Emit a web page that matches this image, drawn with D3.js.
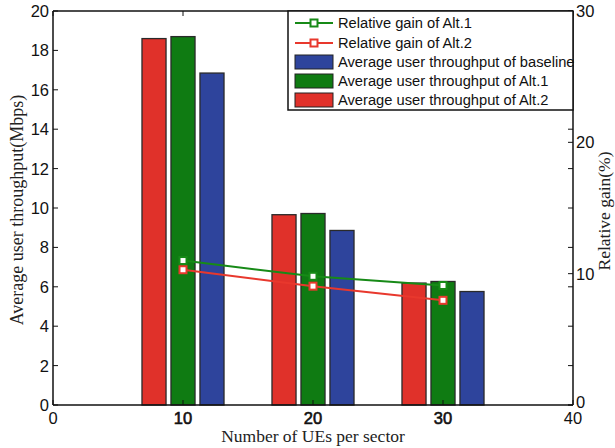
<!DOCTYPE html>
<html>
<head>
<meta charset="utf-8">
<script src="https://cdn.jsdelivr.net/npm/d3@7"></script>
<style>
  html, body { margin: 0; padding: 0; background: #fff; }
  svg { display: block; }
</style>
</head>
<body>
<svg id="chart" width="615" height="448"></svg>
<script>
// ---- data ----
const categories = [10, 20, 30];
const throughputAlt2 = [18.6, 9.66, 6.19];
const throughputAlt1 = [18.7, 9.72, 6.27];
const throughputBaseline = [16.85, 8.86, 5.76];
const gainAlt1 = [11.0, 9.8, 9.1];
const gainAlt2 = [10.3, 9.05, 7.97];
const xTicks = [0, 10, 20, 30, 40];
const yLeftTicks = [0, 2, 4, 6, 8, 10, 12, 14, 16, 18, 20];
const yRightTicks = [0, 10, 20, 30];
const legendLabels = [
  "Relative gain of Alt.1",
  "Relative gain of Alt.2",
  "Average user throughput of baseline",
  "Average user throughput of Alt.1",
  "Average user throughput of Alt.2"
];

// ---- layout ----
const W = 615, H = 448;
const L = 53, R = 573, T = 11, B = 405;
const RED = "#e0312a", GREEN = "#0f7b12", BLUE = "#2e449c";
const LRED = "#e8382d", LGREEN = "#178a17";

const svg = d3.select("#chart");
const x = d3.scaleLinear().domain([0, 40]).range([L, R]);
const yL = d3.scaleLinear().domain([0, 20]).range([B, T]);
const yR = d3.scaleLinear().domain([0, 30]).range([B, T]);

const barW = x(1.85) - x(0);
const off = x(2.23) - x(0);

const series = [
  { vals: throughputAlt2, color: RED, dx: -off },
  { vals: throughputAlt1, color: GREEN, dx: 0 },
  { vals: throughputBaseline, color: BLUE, dx: off }
];

const bars = svg.append("g");
series.forEach(s => {
  bars.selectAll(null).data(categories).enter().append("rect")
    .attr("x", (d) => x(d) + s.dx - barW / 2)
    .attr("y", (d, i) => yL(s.vals[i]))
    .attr("width", barW)
    .attr("height", (d, i) => B - yL(s.vals[i]))
    .attr("fill", s.color)
    .attr("stroke", "#2a2a2a")
    .attr("stroke-width", 1.3);
});

// lines
const lines = [
  { vals: gainAlt1, color: LGREEN },
  { vals: gainAlt2, color: LRED }
];
const lg = svg.append("g");
lines.forEach(l => {
  const line = d3.line().x((d) => x(d)).y((d, i) => yR(l.vals[i]));
  lg.append("path").datum(categories).attr("d", line)
    .attr("fill", "none").attr("stroke", l.color).attr("stroke-width", 2);
  lg.selectAll(null).data(categories).enter().append("rect")
    .attr("x", d => x(d) - 3.5).attr("y", (d, i) => yR(l.vals[i]) - 3.5)
    .attr("width", 7).attr("height", 7)
    .attr("fill", "#fff").attr("stroke", l.color).attr("stroke-width", 2);
});

// axes frame
const ax = svg.append("g").attr("stroke", "#111").attr("stroke-width", 1.5);
ax.append("line").attr("x1", L).attr("x2", R).attr("y1", B).attr("y2", B);
ax.append("line").attr("x1", L).attr("x2", R).attr("y1", T).attr("y2", T);
ax.append("line").attr("x1", L).attr("x2", L).attr("y1", T).attr("y2", B);
ax.append("line").attr("x1", R).attr("x2", R).attr("y1", T).attr("y2", B);

const tk = 5;
const tg = svg.append("g").attr("stroke", "#111").attr("stroke-width", 1);
// left ticks & mirrored right
yLeftTicks.forEach(v => {
  tg.append("line").attr("x1", L).attr("x2", L + tk).attr("y1", yL(v)).attr("y2", yL(v));
  tg.append("line").attr("x1", R).attr("x2", R - tk).attr("y1", yL(v)).attr("y2", yL(v));
});
yRightTicks.forEach(v => {
  tg.append("line").attr("x1", R).attr("x2", R - tk).attr("y1", yR(v)).attr("y2", yR(v));
});
xTicks.forEach(v => {
  tg.append("line").attr("x1", x(v)).attr("x2", x(v)).attr("y1", B).attr("y2", B - tk);
  tg.append("line").attr("x1", x(v)).attr("x2", x(v)).attr("y1", T).attr("y2", T + tk);
});

// tick labels
const tickFont = "'Liberation Sans', Arial, sans-serif";
svg.append("g").selectAll("text").data(yLeftTicks).enter().append("text")
  .attr("x", L - 4).attr("y", d => yL(d) + 6)
  .attr("text-anchor", "end").attr("font-family", tickFont).attr("font-size", 16.5)
  .attr("fill", "#111").text(d => d);
svg.append("g").selectAll("text").data(yRightTicks).enter().append("text")
  .attr("x", R + 3).attr("y", d => yR(d) + (d === 0 ? 3 : 6))
  .attr("text-anchor", "start").attr("font-family", tickFont).attr("font-size", 16.5)
  .attr("fill", "#111").text(d => d);
svg.append("g").selectAll("text").data(xTicks).enter().append("text")
  .attr("x", d => x(d)).attr("y", B + 19)
  .attr("text-anchor", "middle").attr("font-family", tickFont).attr("font-size", 16.5)
  .attr("fill", "#111")
  .attr("stroke", d => (d > 0 && d < 40) ? "#111" : "none")
  .attr("stroke-width", 0.6)
  .text(d => d);

// axis titles
const titleFont = "'Liberation Serif', 'Times New Roman', serif";
svg.append("text").attr("x", x(20)).attr("y", 442)
  .attr("text-anchor", "middle").attr("font-family", titleFont).attr("font-size", 17.5)
  .attr("fill", "#222").text("Number of UEs per sector");
svg.append("text").attr("transform", "translate(23,210) rotate(-90)")
  .attr("text-anchor", "middle").attr("font-family", titleFont).attr("font-size", 18)
  .attr("fill", "#222").text("Average user throughput(Mbps)");
svg.append("text").attr("transform", "translate(610,211) rotate(-90)")
  .attr("text-anchor", "middle").attr("font-family", titleFont).attr("font-size", 17.5)
  .attr("fill", "#222").text("Relative gain(%)");

// legend
const leg = svg.append("g");
leg.append("rect").attr("x", 288).attr("y", T).attr("width", R - 288).attr("height", 99)
  .attr("fill", "#fff").attr("stroke", "#111").attr("stroke-width", 1.5);
const rowY = [23, 43, 62, 81, 100];
const legItems = [
  { type: "line", color: LGREEN },
  { type: "line", color: LRED },
  { type: "rect", color: BLUE },
  { type: "rect", color: GREEN },
  { type: "rect", color: RED }
];
legItems.forEach((it, i) => {
  const yy = rowY[i];
  if (it.type === "line") {
    leg.append("line").attr("x1", 295).attr("x2", 333).attr("y1", yy).attr("y2", yy)
      .attr("stroke", it.color).attr("stroke-width", 2);
    leg.append("rect").attr("x", 314 - 3.5).attr("y", yy - 3.5).attr("width", 7).attr("height", 7)
      .attr("fill", "#fff").attr("stroke", it.color).attr("stroke-width", 2);
  } else {
    leg.append("rect").attr("x", 295).attr("y", yy - 7).attr("width", 38).attr("height", 14)
      .attr("fill", it.color).attr("stroke", "#222").attr("stroke-width", 1);
  }
  leg.append("text").attr("x", 338).attr("y", yy + 5)
    .attr("font-family", tickFont).attr("font-size", 14.7).attr("fill", "#111")
    .text(legendLabels[i]);
});
</script>
</body>
</html>
